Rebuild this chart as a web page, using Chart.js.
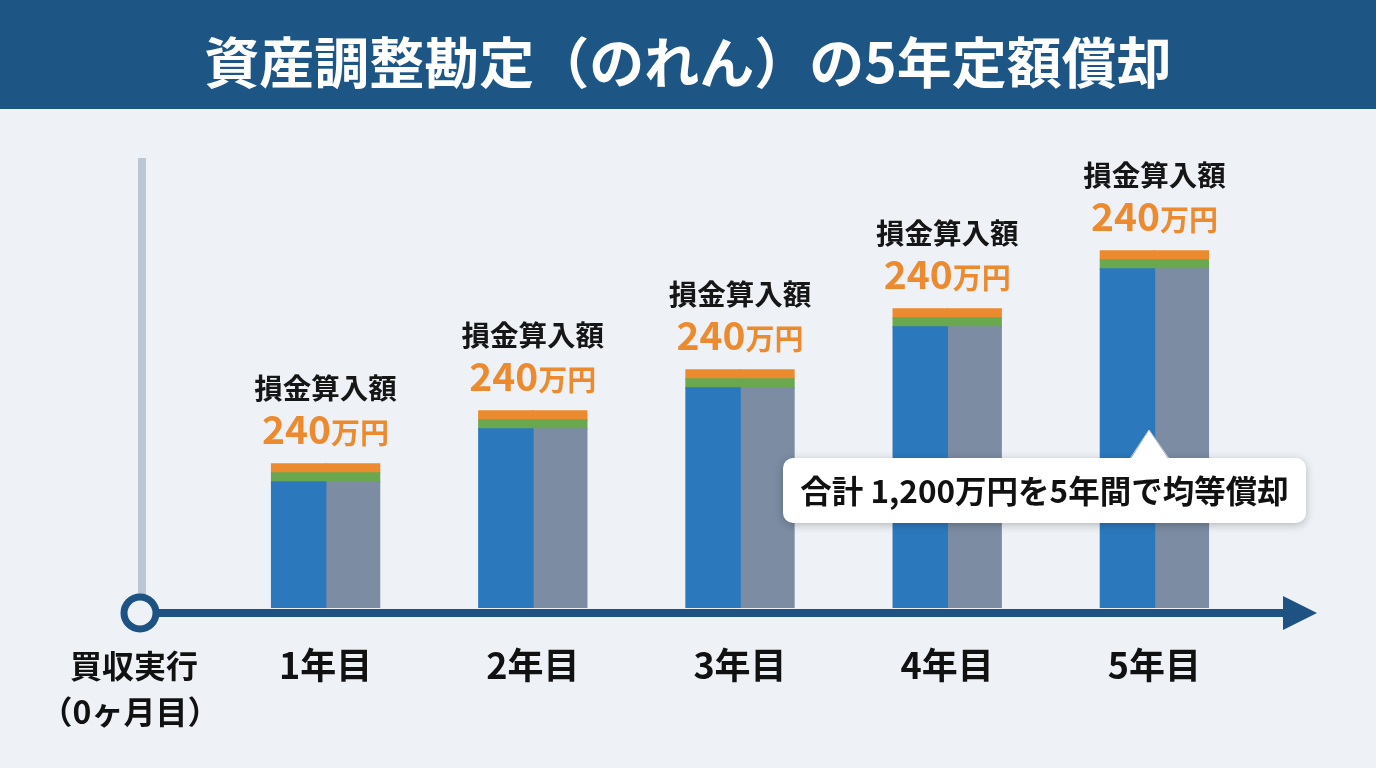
<!DOCTYPE html>
<html><head><meta charset="utf-8">
<script src="https://cdn.jsdelivr.net/npm/chart.js@4/dist/chart.umd.min.js"></script>
<style>html,body{margin:0;padding:0;background:#eef2f7;}#wrap{width:1376px;height:768px;}</style>
</head><body><div id="wrap"><canvas id="c" width="1376" height="768"></canvas></div>
<script>
const title = '資産調整勘定（のれん）の5年定額償却';
const categories = ['1年目', '2年目', '3年目', '4年目', '5年目'];
const bodyValues = [126, 179, 220, 281, 339];
const greenBand = [9, 9, 9, 9, 9];
const orangeBand = [9, 9, 9, 9, 9];
const labelTop = '損金算入額';
const amountNum = ['240', '240', '240', '240', '240'];
const amountUnit = '万円';
const startLabel = ['買収実行', '（0ヶ月目）'];
const calloutText = '合計 1,200万円を5年間で均等償却';

const FONT = '"Noto Sans CJK JP", "Noto Sans", sans-serif';
const BLUE = '#2b78bd', GRAY = '#7b8ca3', GREEN = '#6aa84f', ORANGE = '#ec8a2f', NAVY = '#1d5282';

const deco = {
  id: 'deco',
  beforeDraw(chart) {
    const ctx = chart.ctx;
    ctx.save();
    ctx.fillStyle = '#eef2f7';
    ctx.fillRect(0, 0, chart.width, chart.height);
    ctx.fillStyle = '#1d5585';
    ctx.fillRect(0, 0, chart.width, 109);
    ctx.fillStyle = '#ffffff';
    ctx.font = 'bold 55px ' + FONT;
    ctx.textAlign = 'center';
    ctx.textBaseline = 'middle';
    ctx.fillText(title, 688, 62);
    ctx.fillStyle = '#bcc7d2';
    ctx.fillRect(138, 158, 8, 440);
    ctx.restore();
  },
  afterDatasetsDraw(chart) {
    const ctx = chart.ctx;
    const xs = chart.scales.x, ys = chart.scales.y;
    ctx.save();
    ctx.fillStyle = NAVY;
    ctx.fillRect(150, 609, 1140, 8);
    ctx.beginPath();
    ctx.moveTo(1283, 596); ctx.lineTo(1317, 613); ctx.lineTo(1283, 630); ctx.closePath();
    ctx.fill();
    ctx.beginPath();
    ctx.arc(140, 613, 16, 0, Math.PI * 2);
    ctx.fillStyle = '#eef2f7'; ctx.fill();
    ctx.lineWidth = 7; ctx.strokeStyle = NAVY; ctx.stroke();
    ctx.fillStyle = '#111';
    ctx.font = 'bold 32px ' + FONT;
    ctx.textAlign = 'center'; ctx.textBaseline = 'middle';
    ctx.fillText(startLabel[0], 134, 666);
    ctx.fillText(startLabel[1], 130, 712);
    categories.forEach((c, i) => {
      const x = xs.getPixelForValue(i);
      const top = ys.getPixelForValue(bodyValues[i] + greenBand[i] + orangeBand[i]);
      ctx.fillStyle = '#161616';
      ctx.font = 'bold 28.5px ' + FONT;
      ctx.textAlign = 'center'; ctx.textBaseline = 'middle';
      ctx.fillText(labelTop, x, top - 76);
      ctx.font = 'bold 39px ' + FONT;
      const w1 = ctx.measureText(amountNum[i]).width;
      ctx.font = 'bold 29px ' + FONT;
      const w2 = ctx.measureText(amountUnit).width;
      const sx = x - (w1 + w2) / 2;
      ctx.fillStyle = ORANGE;
      ctx.textAlign = 'left'; ctx.textBaseline = 'alphabetic';
      ctx.font = 'bold 39px ' + FONT;
      ctx.fillText(amountNum[i], sx, top - 20);
      ctx.font = 'bold 29px ' + FONT;
      ctx.fillText(amountUnit, sx + w1, top - 20);
    });
    const bx = 783, by = 458, bw = 523, bh = 65;
    ctx.save();
    ctx.shadowColor = 'rgba(0,0,0,0.25)';
    ctx.shadowBlur = 8; ctx.shadowOffsetY = 2;
    ctx.fillStyle = '#ffffff';
    ctx.beginPath();
    ctx.roundRect(bx, by, bw, bh, 10);
    ctx.fill();
    ctx.restore();
    ctx.fillStyle = '#ffffff';
    ctx.beginPath();
    ctx.moveTo(1130, 460); ctx.lineTo(1149, 430); ctx.lineTo(1169, 460); ctx.closePath();
    ctx.fill();
    ctx.strokeStyle = '#c9d1da'; ctx.lineWidth = 1;
    ctx.beginPath();
    ctx.moveTo(1130, 458.5); ctx.lineTo(1149, 430); ctx.lineTo(1169, 458.5);
    ctx.stroke();
    ctx.fillStyle = '#111';
    ctx.font = 'bold 31.5px ' + FONT;
    ctx.textAlign = 'center'; ctx.textBaseline = 'middle';
    ctx.fillText(calloutText, bx + bw / 2, by + bh / 2 + 1);
    ctx.restore();
  }
};

new Chart(document.getElementById('c'), {
  type: 'bar',
  data: {
    labels: categories,
    datasets: [
      { data: bodyValues, backgroundColor: BLUE, stack: 'a' },
      { data: greenBand, backgroundColor: GREEN, stack: 'a' },
      { data: orangeBand, backgroundColor: ORANGE, stack: 'a' },
      { data: bodyValues, backgroundColor: GRAY, stack: 'b' },
      { data: greenBand, backgroundColor: GREEN, stack: 'b' },
      { data: orangeBand, backgroundColor: ORANGE, stack: 'b' }
    ]
  },
  options: {
    responsive: false,
    animation: false,
    devicePixelRatio: 1,
    layout: { padding: { top: 158, left: 222, right: 118, bottom: 0 } },
    datasets: { bar: { categoryPercentage: 0.52, barPercentage: 1.0, borderWidth: 0, inflateAmount: 0.8 } },
    plugins: { legend: { display: false }, tooltip: { enabled: false } },
    scales: {
      x: {
        stacked: true,
        grid: { display: false, drawTicks: false },
        border: { display: false },
        ticks: { color: '#111', font: { family: FONT, size: 36, weight: 'bold' }, padding: 36 },
        afterFit(scale) { scale.height = 160; }
      },
      y: { stacked: true, display: false, min: 0, max: 450 }
    }
  },
  plugins: [deco]
});
</script></body></html>
